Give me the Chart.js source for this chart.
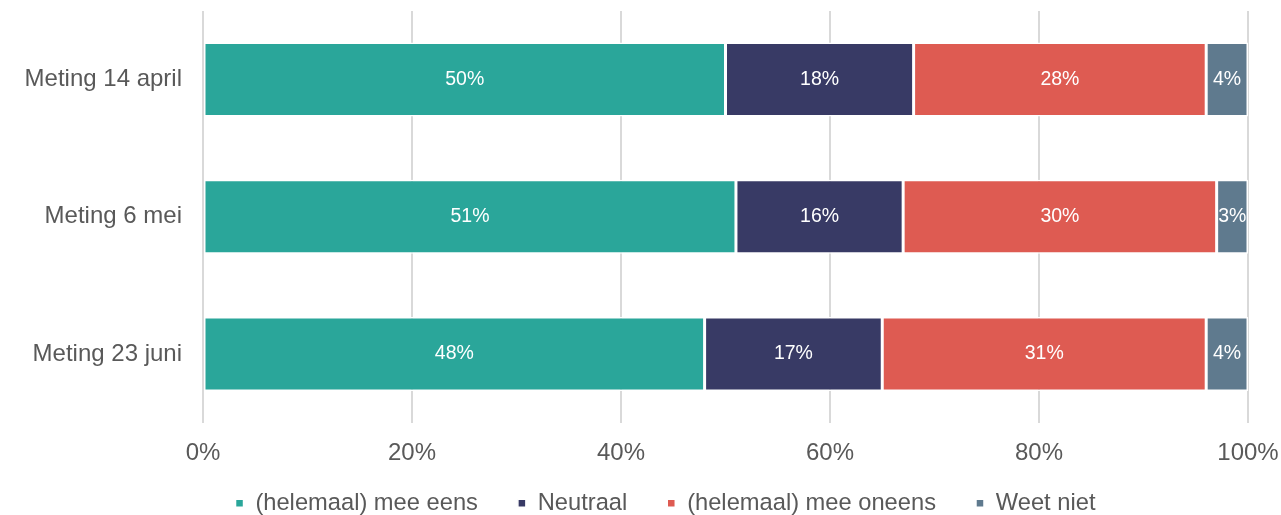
<!DOCTYPE html>
<html>
<head>
<meta charset="utf-8">
<script src="https://cdn.jsdelivr.net/npm/chart.js@4"></script>
<style>
  html, body { margin: 0; padding: 0; background: #fff; }
  #wrap { width: 1281px; height: 515px; }
</style>
</head>
<body>
<div id="wrap"><canvas id="chart"></canvas></div>
<script>
// Data
const categories = ["Meting 14 april", "Meting 6 mei", "Meting 23 juni"];
const seriesNames = ["(helemaal) mee eens", "Neutraal", "(helemaal) mee oneens", "Weet niet"];
const eens = [50, 51, 48];
const neutraal = [18, 16, 17];
const oneens = [28, 30, 31];
const weetNiet = [4, 3, 4];
const xTicks = [0, 20, 40, 60, 80, 100];

const colors = ["#2aa69a", "#383a65", "#de5b52", "#5f7a8e"];
const textGray = "#595959";
const font = "Liberation Sans, Arial, sans-serif";

// draws the % values inside each segment
const barLabels = {
  id: "barLabels",
  afterDatasetsDraw(chart) {
    const ctx = chart.ctx;
    ctx.save();
    ctx.font = "19.5px " + font;
    ctx.fillStyle = "#ffffff";
    ctx.textAlign = "center";
    ctx.textBaseline = "middle";
    chart.data.datasets.forEach((ds, i) => {
      const meta = chart.getDatasetMeta(i);
      meta.data.forEach((bar, j) => {
        const x = (bar.x + bar.base) / 2;
        ctx.fillText(ds.data[j] + "%", x, bar.y);
      });
    });
    ctx.restore();
  }
};

// move the legend box up a bit and off-centre, like the original
const legendPlace = {
  id: "legendPlace",
  afterLayout(chart) {
    const lg = chart.legend;
    const h = lg.height;
    lg.left = 83;
    lg.right = chart.chartArea.right;
    lg.width = lg.right - lg.left;
    lg.top = chart.chartArea.bottom + 29;
    lg.bottom = lg.top + h;
  }
};

const ctx = document.getElementById("chart").getContext("2d");
const chart = new Chart(ctx, {
  type: "bar",
  data: {
    labels: categories,
    datasets: [eens, neutraal, oneens, weetNiet].map((d, i) => ({
      label: seriesNames[i],
      data: d,
      backgroundColor: colors[i],
      borderColor: "#ffffff",
      borderWidth: 1.5,
      borderSkipped: false,
      barPercentage: 0.9,
      categoryPercentage: 0.6
    }))
  },
  options: {
    indexAxis: "y",
    responsive: true,
    maintainAspectRatio: false,
    animation: false,
    layout: { padding: { top: 11, right: 33, bottom: -42, left: 0 } },
    scales: {
      x: {
        stacked: true,
        min: 0,
        max: 100,
        afterBuildTicks(axis) {
          axis.ticks = xTicks.map(v => ({ value: v }));
        },
        afterFit(axis) {
          axis.paddingLeft = 0;
          axis.paddingRight = 0;
        },
        ticks: {
          callback: v => v + "%",
          color: textGray,
          font: { size: 24, family: font },
          padding: 16
        },
        grid: { color: "#d9d9d9", lineWidth: 2, drawTicks: false },
        border: { display: false }
      },
      y: {
        stacked: true,
        afterFit(axis) {
          axis.width = 203;
          axis.paddingTop = 0;
          axis.paddingBottom = 0;
        },
        ticks: {
          color: textGray,
          font: { size: 24, family: font },
          padding: 13
        },
        grid: { display: false },
        border: { display: false }
      }
    },
    plugins: {
      legend: {
        position: "bottom",
        labels: {
          color: textGray,
          font: { size: 23.7, family: font },
          usePointStyle: true,
          pointStyle: "rect",
          boxWidth: 8,
          boxHeight: 8,
          padding: 40
        }
      },
      tooltip: { enabled: false }
    }
  },
  plugins: [barLabels, legendPlace]
});
</script>
</body>
</html>
